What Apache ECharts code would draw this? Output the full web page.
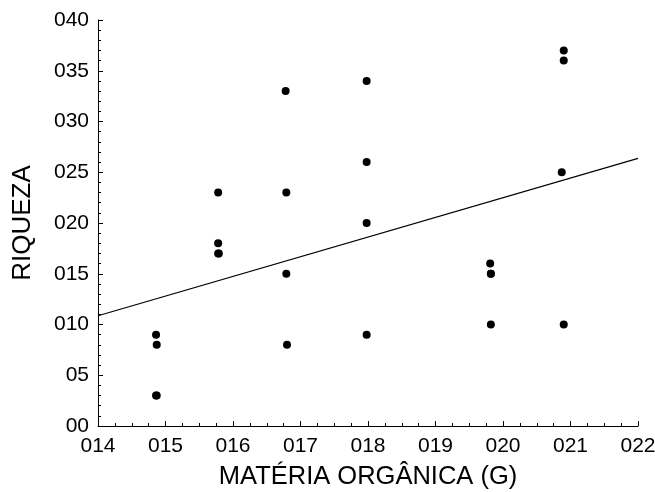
<!DOCTYPE html>
<html><head><meta charset="utf-8">
<script src="https://cdn.jsdelivr.net/npm/echarts@6/dist/echarts.min.js"></script>
<style>html,body{margin:0;padding:0;background:#fff}#c{width:655px;height:492px}</style>
</head><body><div id="c"></div>
<script>
var materiaOrganica = [14.86,14.87,14.86,14.87, 15.78,15.78,15.78,15.79, 16.78,16.79,16.79,16.80, 17.98,17.98,17.98,17.98, 19.81,19.82,19.82,19.82, 20.90,20.90,20.87,20.90];
var riqueza         = [9,8,3,3, 23,18,17,17, 33,23,15,8, 34,26,20,9, 16,15,15,10, 37,36,25,10];
var regX = [14, 22];
var regY = [10.86, 26.37];
var xTickLabels = {14:'014',15:'015',16:'016',17:'017',18:'018',19:'019',20:'020',21:'021',22:'022'};
var yTickLabels = {0:'00',5:'05',10:'010',15:'015',20:'020',25:'025',30:'030',35:'035',40:'040'};

var pts = materiaOrganica.map(function(x,i){return [x, riqueza[i]];});
var line = regX.map(function(x,i){return [x, regY[i]];});
var font = 'Liberation Sans, Arial, sans-serif';
var chart = echarts.init(document.getElementById('c'), null, {renderer:'canvas'});
chart.setOption({
  animation:false,
  grid:{left:98,right:17,top:20,bottom:66,containLabel:false,outerBoundsMode:'none'},
  xAxis:{type:'value',min:14,max:22,interval:1,
    name:'MATÉRIA ORGÂNICA (G)',nameLocation:'middle',nameGap:38,
    nameTextStyle:{fontFamily:font,fontSize:25.5,color:'#000'},
    axisLine:{show:true,lineStyle:{color:'#000',width:1}},
    axisTick:{show:true,inside:true,length:5,lineStyle:{color:'#000'}},
    minorTick:{show:true,splitNumber:4,length:3,lineStyle:{color:'#000'}},
    splitLine:{show:false},
    axisLabel:{fontFamily:font,fontSize:21,color:'#000',margin:10,hideOverlap:false,
      formatter:function(v){return xTickLabels[Math.round(v)];}}},
  yAxis:{type:'value',min:0,max:40,interval:5,
    name:'RIQUEZA',nameLocation:'middle',nameGap:62,nameRotate:90,
    nameTextStyle:{fontFamily:font,fontSize:26,color:'#000'},
    axisLine:{show:true,lineStyle:{color:'#000',width:1}},
    axisTick:{show:true,inside:true,length:5,lineStyle:{color:'#000'}},
    minorTick:{show:true,splitNumber:5,length:3,lineStyle:{color:'#000'}},
    splitLine:{show:false},
    axisLabel:{fontFamily:font,fontSize:21,color:'#000',margin:9,
      formatter:function(v){return yTickLabels[Math.round(v)];}}},
  series:[
    {type:'line',data:line,showSymbol:false,symbol:'none',lineStyle:{color:'#000',width:1.2},z:1},
    {type:'scatter',data:pts,symbol:'circle',symbolSize:8,itemStyle:{color:'#000',opacity:1},z:2}
  ]
});
</script></body></html>
